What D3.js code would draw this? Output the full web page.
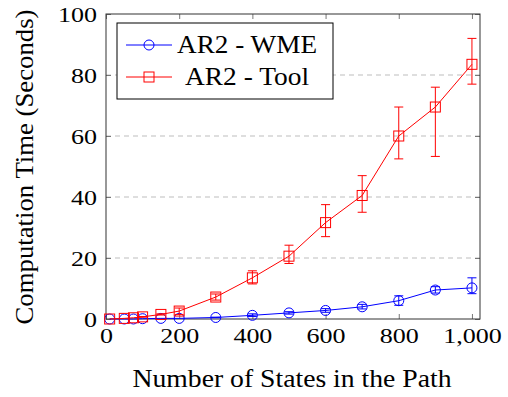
<!DOCTYPE html>
<html>
<head><meta charset="utf-8" /></head>
<body style="margin:0">
<script src="https://cdn.jsdelivr.net/npm/d3@7"></script>
<script>
    // data
    var states = [10, 50, 75, 100, 150, 200, 300, 400, 500, 600, 700, 800, 900, 1000];
    var wmeTime = [0, 0, 0, 0.1, 0.2, 0.2, 0.5, 1.2, 2, 2.8, 4, 6, 9.5, 10.2];
    var wmeLow  = [0, 0, 0, 0.1, 0.2, 0.2, 0.4, 0.8, 1.6, 2.2, 3.3, 4.5, 8.5, 8.3];
    var wmeHigh = [0, 0, 0, 0.1, 0.2, 0.2, 0.6, 1.7, 2.4, 3.4, 4.8, 7.6, 10.6, 13.5];
    var toolTime = [0, 0.2, 0.4, 0.7, 1.5, 2.6, 7.2, 13.5, 20.6, 31.6, 40.5, 60, 69.5, 83.5];
    var toolLow  = [0, 0.2, 0.4, 0.6, 1.3, 1.5, 6.2, 11.5, 18.2, 27, 35, 52.5, 53.3, 77];
    var toolHigh = [0, 0.2, 0.4, 0.8, 1.7, 3.6, 8.2, 15.8, 24.2, 37.5, 47, 69.5, 76, 92];
    var xTicks = [0, 200, 400, 600, 800, 1000];
    var yTicks = [0, 20, 40, 60, 80, 100];
    var gridTicks = [20, 40, 60, 80];

    var fontName = "Liberation Serif";
    var width = 508, height = 397;
    var margin = { left: 106, right: 28, top: 14, bottom: 78 };
    var w = width - margin.left - margin.right;
    var h = height - margin.top - margin.bottom;

    var svg = d3.select("body").append("svg")
        .attr("width", width)
        .attr("height", height);

    var g = svg.append("g")
        .attr("transform", `translate(${margin.left},${margin.top})`);

    var x = d3.scaleLinear().domain([0, 1022]).range([0, w]);
    var y = d3.scaleLinear().domain([0, 100]).range([h, 0]);

    // grid
    g.append("g")
        .selectAll("line")
        .data(gridTicks)
        .join("line")
        .attr("x1", 0).attr("x2", w)
        .attr("y1", d => y(d)).attr("y2", d => y(d))
        .attr("stroke", "#bdbdbd")
        .attr("stroke-dasharray", "5,4");

    // axes, ticks pointing inward on all four sides
    var fmt = d3.format(",");
    var sx = 1.3;
    g.append("g")
        .attr("transform", `translate(0,${h})`)
        .call(d3.axisBottom(x).tickValues(xTicks).tickFormat(fmt).tickSizeInner(-5).tickSizeOuter(0))
        .call(a => a.select(".domain").remove())
        .call(a => a.selectAll(".tick text").attr("y", 0).attr("dy", 0)
            .attr("transform", `translate(0,24) scale(${sx},1.1)`));
    g.append("g")
        .call(d3.axisTop(x).tickValues(xTicks).tickFormat("").tickSizeInner(-5).tickSizeOuter(0))
        .call(a => a.select(".domain").remove());
    g.append("g")
        .call(d3.axisLeft(y).tickValues(yTicks).tickSizeInner(-5).tickSizeOuter(0))
        .call(a => a.select(".domain").remove())
        .call(a => a.selectAll(".tick text").attr("x", 0).attr("dy", "0.33em")
            .attr("transform", `translate(-9,0) scale(${sx},1.1)`));
    g.append("g")
        .attr("transform", `translate(${w},0)`)
        .call(d3.axisRight(y).tickValues(yTicks).tickFormat("").tickSizeInner(-5).tickSizeOuter(0))
        .call(a => a.select(".domain").remove());

    g.selectAll(".tick line").attr("stroke", "#777");
    g.selectAll(".tick text")
        .attr("font-size", 20)
        .attr("font-family", d => fontName)
        .attr("fill", "#000");

    g.append("rect")
        .attr("width", w).attr("height", h)
        .attr("fill", "none")
        .attr("stroke", "#333");

    var series = [
        { name: "AR2 - WME", color: "#0000ff", mark: "circle", v: wmeTime, lo: wmeLow, hi: wmeHigh, len: 140 },
        { name: "AR2 - Tool", color: "#ff0000", mark: "square", v: toolTime, lo: toolLow, hi: toolHigh, len: 124 }
    ];

    var line = d3.line().x(d => x(d[0])).y(d => y(d[1]));

    function drawMark(sel, s) {
        if (s.mark === "circle") {
            sel.append("circle").attr("r", 5)
                .attr("fill", "none").attr("stroke", s.color);
        } else {
            sel.append("rect").attr("x", -5).attr("y", -5)
                .attr("width", 10).attr("height", 10)
                .attr("fill", "none").attr("stroke", s.color);
        }
    }

    series.forEach(function (s) {
        var pts = states.map((d, i) => [d, s.v[i], s.lo[i], s.hi[i]]);
        var sg = g.append("g");
        sg.append("path")
            .attr("d", line(pts))
            .attr("fill", "none")
            .attr("stroke", s.color)
            .attr("stroke-width", 1);

        // error bars
        var eb = sg.append("g").attr("stroke", s.color).attr("stroke-width", 1);
        pts.filter(p => p[3] - p[2] > 0.05).forEach(function (p) {
            var cx = x(p[0]);
            eb.append("line").attr("x1", cx).attr("x2", cx).attr("y1", y(p[2])).attr("y2", y(p[3]));
            eb.append("line").attr("x1", cx - 4.5).attr("x2", cx + 4.5).attr("y1", y(p[2])).attr("y2", y(p[2]));
            eb.append("line").attr("x1", cx - 4.5).attr("x2", cx + 4.5).attr("y1", y(p[3])).attr("y2", y(p[3]));
        });

        sg.selectAll(".mk")
            .data(pts)
            .join("g")
            .attr("class", "mk")
            .attr("transform", d => `translate(${x(d[0])},${y(d[1])})`)
            .each(function () { drawMark(d3.select(this), s); });
    });

    // legend
    var lg = svg.append("g").attr("transform", "translate(117,23)");
    lg.append("rect")
        .attr("width", 216).attr("height", 76)
        .attr("fill", "#fff").attr("stroke", "#000");
    var rows = lg.selectAll(".row")
        .data(series)
        .join("g")
        .attr("class", "row")
        .attr("transform", (d, i) => `translate(0,${22 + i * 32})`);
    rows.append("line").attr("x1", 9).attr("x2", 55)
        .attr("stroke", d => d.color);
    rows.each(function (s) {
        drawMark(d3.select(this).append("g").attr("transform", "translate(32,0)"), s);
    });
    rows.append("text")
        .attr("transform", "translate(130,7.5) scale(1,1.25)")
        .attr("text-anchor", "middle")
        .attr("font-family", d => fontName)
        .attr("font-size", 20)
        .attr("textLength", d => d.len)
        .attr("lengthAdjust", "spacingAndGlyphs")
        .text(d => d.name);

    // axis titles
    var titles = [
        { t: "Number of States in the Path", tr: "translate(292,387) scale(1,1.25)", len: 319 },
        { t: "Computation Time (Seconds)", tr: "translate(33,167) rotate(-90) scale(1,1.25)", len: 315 }
    ];
    svg.selectAll(".title")
        .data(titles)
        .join("text")
        .attr("class", "title")
        .attr("transform", d => d.tr)
        .attr("text-anchor", "middle")
        .attr("font-family", d => fontName)
        .attr("font-size", 20)
        .attr("textLength", d => d.len)
        .attr("lengthAdjust", "spacingAndGlyphs")
        .text(d => d.t);
</script>
</body>
</html>
